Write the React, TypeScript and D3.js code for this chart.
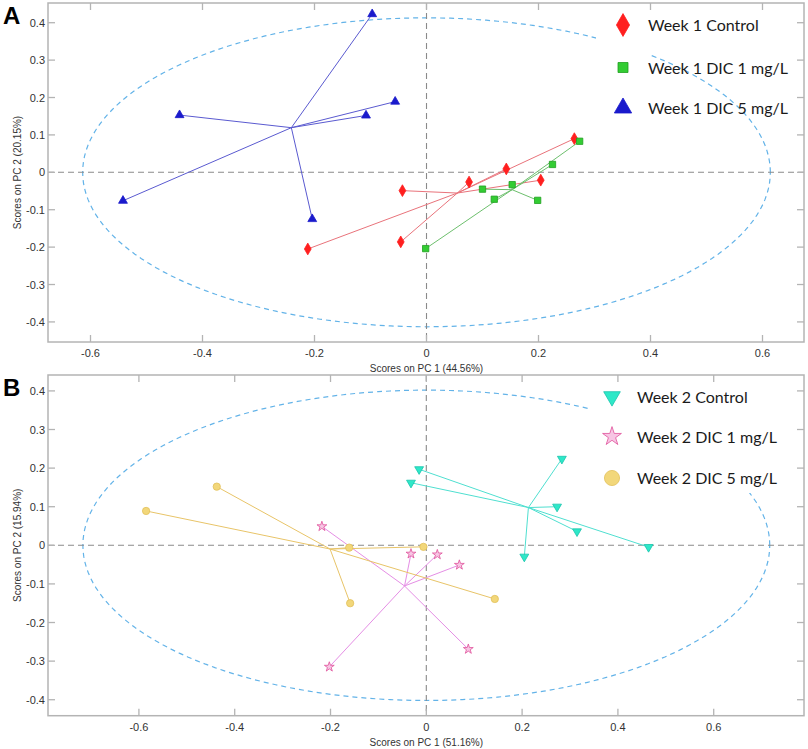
import React from 'react';
import * as d3 from 'd3';

// ---------- Data ----------
const xTickValues = [-0.6, -0.4, -0.2, 0, 0.2, 0.4, 0.6];
const yTickValues = [0.4, 0.3, 0.2, 0.1, 0, -0.1, -0.2, -0.3, -0.4];

// Panel A (Week 1)
const w1ControlX = [-0.212, -0.043, -0.046, 0.076, 0.1425, 0.204, 0.264];
const w1ControlY = [-0.205, -0.049, -0.186, -0.026, 0.009, -0.021, 0.09];
const w1Dic1X = [-0.0015, 0.1, 0.121, 0.153, 0.1985, 0.225, 0.2735];
const w1Dic1Y = [-0.204, -0.045, -0.072, -0.033, -0.075, 0.021, 0.083];
const w1Dic5X = [-0.097, -0.441, -0.056, -0.108, -0.542, -0.204];
const w1Dic5Y = [0.423, 0.153, 0.189, 0.152, -0.076, -0.125];

// Panel B (Week 2)
const w2ControlX = [-0.015, -0.032, 0.283, 0.273, 0.3146, 0.464, 0.2046];
const w2ControlY = [0.197, 0.162, 0.224, 0.1, 0.036, -0.0045, -0.0295];
const w2Dic1X = [-0.218, -0.032, -0.2025, 0.023, 0.069, 0.0877];
const w2Dic1Y = [0.049, -0.022, -0.315, -0.024, -0.051, -0.269];
const w2Dic5X = [-0.585, -0.4375, -0.161, -0.159, -0.006, 0.143];
const w2Dic5Y = [0.089, 0.152, -0.006, -0.15, -0.004, -0.139];

const labelsA = ['Week 1 Control', 'Week 1 DIC 1 mg/L', 'Week 1 DIC 5 mg/L'];
const labelsB = ['Week 2 Control', 'Week 2 DIC 1 mg/L', 'Week 2 DIC 5 mg/L'];

type Series = {
  xs: number[];
  ys: number[];
  shape: string;
  fill: string;
  stroke: string;
  line: string;
  size: number;
  legendSize: number;
};

const seriesA: Series[] = [
  { xs: w1ControlX, ys: w1ControlY, shape: 'diamond', fill: '#ff1f1f', stroke: '#ff1f1f', line: '#e9737b', size: 40, legendSize: 150 },
  { xs: w1Dic1X, ys: w1Dic1Y, shape: 'square', fill: '#33cc33', stroke: '#1f9f1f', line: '#6dbf6d', size: 40, legendSize: 100 },
  { xs: w1Dic5X, ys: w1Dic5Y, shape: 'triangle', fill: '#1a1acc', stroke: '#1a1acc', line: '#5a5ad0', size: 34, legendSize: 130 },
];
const seriesB: Series[] = [
  { xs: w2ControlX, ys: w2ControlY, shape: 'tridown', fill: '#2ee8c8', stroke: '#18c4ac', line: '#4fdfd0', size: 34, legendSize: 120 },
  { xs: w2Dic1X, ys: w2Dic1Y, shape: 'star', fill: '#f7c6e4', stroke: '#e0509a', line: '#e58ee5', size: 30, legendSize: 110 },
  { xs: w2Dic5X, ys: w2Dic5Y, shape: 'circle', fill: '#f2d77a', stroke: '#e2c05a', line: '#e8c468', size: 42, legendSize: 180 },
];

const symbolType = (s: string) => {
  switch (s) {
    case 'diamond': return d3.symbolDiamond;
    case 'square': return d3.symbolSquare;
    case 'triangle':
    case 'tridown': return d3.symbolTriangle;
    case 'star': return d3.symbolStar;
    default: return d3.symbolCircle;
  }
};

type PanelProps = {
  left: number; right: number; top: number; bottom: number;
  xDomain: [number, number]; yDomain: [number, number];
  series: Series[];
  rx: number; ry: number;
  label: string;
  xTitle: string; yTitle: string;
  legendLabels: string[];
  legendMarkerX: number; legendTextX: number; legendY: number[];
  mask: { x: number; y: number; w: number; h: number };
};

const Panel: React.FC<PanelProps> = (p) => {
  const xs = d3.scaleLinear().domain(p.xDomain).range([p.left, p.right]);
  const ys = d3.scaleLinear().domain(p.yDomain).range([p.bottom, p.top]);
  const ellipse = d3.range(0, 361, 2).map((a) => {
    const t = (a * Math.PI) / 180;
    return [p.rx * Math.cos(t), p.ry * Math.sin(t)] as [number, number];
  });
  const ellPath = d3.line<[number, number]>().x((d) => xs(d[0])).y((d) => ys(d[1]))(ellipse) || '';
  const tickLen = 7;
  const frame = '#b4b4b4';
  const axisFont = "'Liberation Sans', Arial, sans-serif";
  const cx = (p.left + p.right) / 2;
  const cy = (p.top + p.bottom) / 2;
  return (
    <g>
      {/* ellipse */}
      <path d={ellPath} fill="none" stroke="#63b3e8" strokeWidth={1.2} strokeDasharray="5,4" />
      {/* zero lines */}
      <line x1={p.left} x2={p.right} y1={ys(0)} y2={ys(0)} stroke="#8a8a8a" strokeWidth={1.1} strokeDasharray="6,4" />
      <line x1={xs(0)} x2={xs(0)} y1={p.top} y2={p.bottom} stroke="#8a8a8a" strokeWidth={1.1} strokeDasharray="6,4" />
      {/* legend mask */}
      <rect x={p.mask.x} y={p.mask.y} width={p.mask.w} height={p.mask.h} fill="#ffffff" />
      {/* centroid lines */}
      {p.series.map((s, i) => {
        const mx = d3.mean(s.xs) as number;
        const my = d3.mean(s.ys) as number;
        return (
          <g key={'l' + i}>
            {s.xs.map((x, j) => (
              <line key={j} x1={xs(mx)} y1={ys(my)} x2={xs(x)} y2={ys(s.ys[j])} stroke={s.line} strokeWidth={1} />
            ))}
          </g>
        );
      })}
      {/* markers */}
      {p.series.map((s, i) => {
        const path = d3.symbol().type(symbolType(s.shape)).size(s.size)() || '';
        return (
          <g key={'m' + i}>
            {s.xs.map((x, j) => (
              <path key={j} d={path}
                transform={`translate(${xs(x)},${ys(s.ys[j])})${s.shape === 'tridown' ? ' rotate(180)' : ''}`}
                fill={s.fill} stroke={s.stroke} strokeWidth={0.8} />
            ))}
          </g>
        );
      })}
      {/* frame */}
      <rect x={p.left} y={p.top} width={p.right - p.left} height={p.bottom - p.top} fill="none" stroke={frame} strokeWidth={1.5} />
      {/* ticks */}
      {xTickValues.map((t) => (
        <g key={'xt' + t}>
          <line x1={xs(t)} x2={xs(t)} y1={p.bottom} y2={p.bottom - tickLen} stroke={frame} strokeWidth={1.3} />
          <line x1={xs(t)} x2={xs(t)} y1={p.top} y2={p.top + tickLen} stroke={frame} strokeWidth={1.3} />
          <text x={xs(t)} y={p.bottom + 15} textAnchor="middle" fontFamily={axisFont} fontSize={11} fill="#333">{String(t)}</text>
        </g>
      ))}
      {yTickValues.map((t) => (
        <g key={'yt' + t}>
          <line x1={p.left} x2={p.left + tickLen} y1={ys(t)} y2={ys(t)} stroke={frame} strokeWidth={1.3} />
          <line x1={p.right} x2={p.right - tickLen} y1={ys(t)} y2={ys(t)} stroke={frame} strokeWidth={1.3} />
          <text x={p.left - 3} y={ys(t) + 4} textAnchor="end" fontFamily={axisFont} fontSize={11} fill="#333">{String(t)}</text>
        </g>
      ))}
      {/* axis titles */}
      <text x={xs(0)} y={p.bottom + 30} textAnchor="middle" fontFamily={axisFont} fontSize={10} fill="#333">{p.xTitle}</text>
      <text transform={`translate(21,${cy}) rotate(-90)`} textAnchor="middle" fontFamily={axisFont} fontSize={10} fill="#333">{p.yTitle}</text>
      {/* panel label */}
      <text x={3} y={p.top + 21} fontFamily={axisFont} fontWeight="bold" fontSize={24} fill="#000">{p.label}</text>
      {/* legend */}
      {p.series.map((s, i) => {
        const path = d3.symbol().type(symbolType(s.shape)).size(s.legendSize)() || '';
        return (
          <g key={'lg' + i}>
            <path d={path}
              transform={`translate(${p.legendMarkerX},${p.legendY[i]})${s.shape === 'tridown' ? ' rotate(180)' : ''}`}
              fill={s.fill} stroke={s.stroke} strokeWidth={0.8} />
            <text x={p.legendTextX} y={p.legendY[i] + 6} fontFamily="Lato, 'Open Sans', sans-serif" fontSize={16} fill="#1a1a1a">{p.legendLabels[i]}</text>
          </g>
        );
      })}
    </g>
  );
};

export default function App() {
  return (
    <svg width={808} height={749} style={{ position: 'absolute', left: 0, top: 0, background: '#fff' }}>
      <rect x={0} y={0} width={808} height={749} fill="#fff" />
      <Panel
        left={48} right={804} top={3} bottom={342}
        xDomain={[-0.6759, 0.6741]} yDomain={[-0.4537, 0.4527]}
        series={seriesA} rx={0.614} ry={0.413}
        label="A" xTitle="Scores on PC 1 (44.56%)" yTitle="Scores on PC 2 (20.15%)"
        legendLabels={labelsA} legendMarkerX={623} legendTextX={648} legendY={[25, 67.5, 108]}
        mask={{ x: 596, y: 20, w: 55, h: 38 }}
      />
      <Panel
        left={48} right={804} top={375} bottom={715.7}
        xDomain={[-0.7898, 0.7885]} yDomain={[-0.4414, 0.4412]}
        series={seriesB} rx={0.717} ry={0.402}
        label="B" xTitle="Scores on PC 1 (51.16%)" yTitle="Scores on PC 2 (15.94%)"
        legendLabels={labelsB} legendMarkerX={612} legendTextX={637} legendY={[396.5, 436.5, 478]}
        mask={{ x: 588, y: 376, w: 215, h: 117 }}
      />
    </svg>
  );
}
